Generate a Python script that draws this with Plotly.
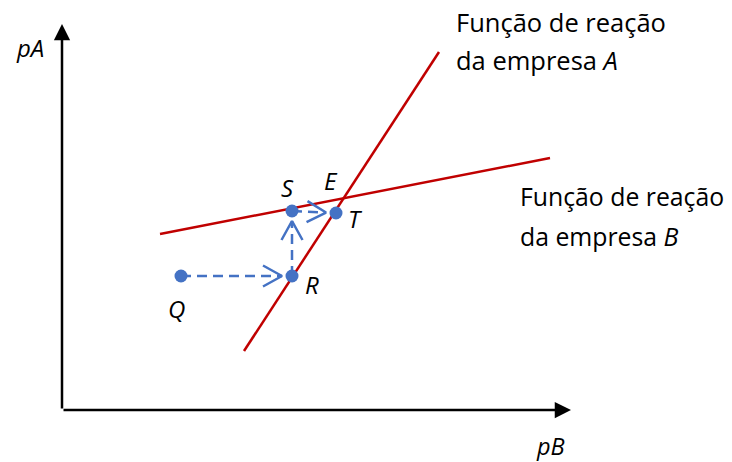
import plotly.graph_objects as go
import math

# ---- data (diagram units; origin at axes corner) ----
axis_x_end = 50.9
axis_y_end = 38.6

line_A_x = [18.2, 37.7]
line_A_y = [5.9, 35.8]
line_B_x = [9.8, 48.8]
line_B_y = [17.6, 25.2]

point_names = ["Q", "R", "S", "T"]
point_x = [11.9, 23.0, 23.0, 27.4]
point_y = [13.4, 13.4, 19.9, 19.7]

# adjustment path (from -> to, by point index)
moves = [(0, 1), (1, 2), (2, 3)]

label_A = ["Função de reação", "da empresa <i>A</i>"]
label_B = ["Função de reação", "da empresa <i>B</i>"]

# ---- layout / scale ----
W, H = 732, 462
ox, oy = 62, 410          # pixel position of origin
s = 10.0                  # pixels per unit
xr = [-ox / s, (W - ox) / s]
yr = [-(H - oy) / s, oy / s]

BLUE = "#4472C4"
RED = "#C00000"
FONT = "Open Sans"

fig = go.Figure()

# reaction functions
fig.add_trace(go.Scatter(x=line_A_x, y=line_A_y, mode="lines",
                         line=dict(color=RED, width=2.5), hoverinfo="skip"))
fig.add_trace(go.Scatter(x=line_B_x, y=line_B_y, mode="lines",
                         line=dict(color=RED, width=2.5), hoverinfo="skip"))

# dashed arrows with open chevron heads
gap_px = 10.0
head_len = 19.0
head_half = 10.5
for a, b in moves:
    x0, y0, x1, y1 = point_x[a], point_y[a], point_x[b], point_y[b]
    dx, dy = (x1 - x0) * s, (y1 - y0) * s
    L = math.hypot(dx, dy)
    ux, uy = dx / L, dy / L
    tx, ty = x1 - ux * gap_px / s, y1 - uy * gap_px / s
    fig.add_trace(go.Scatter(x=[x0, tx], y=[y0, ty], mode="lines",
                             line=dict(color=BLUE, width=2.5, dash="10px,6px"),
                             hoverinfo="skip"))
    px, py = -uy, ux
    wx1 = tx + (-ux * head_len + px * head_half) / s
    wy1 = ty + (-uy * head_len + py * head_half) / s
    wx2 = tx + (-ux * head_len - px * head_half) / s
    wy2 = ty + (-uy * head_len - py * head_half) / s
    fig.add_trace(go.Scatter(x=[wx1, tx, wx2], y=[wy1, ty, wy2], mode="lines",
                             line=dict(color=BLUE, width=2.5), hoverinfo="skip"))

# points
fig.add_trace(go.Scatter(x=point_x, y=point_y, mode="markers",
                         marker=dict(color=BLUE, size=13), hoverinfo="skip"))

# axes with arrows
for (xx, yy) in [(axis_x_end, 0), (0, axis_y_end)]:
    fig.add_annotation(x=xx, y=yy, ax=0, ay=0, xref="x", yref="y",
                       axref="x", ayref="y", showarrow=True, text="",
                       arrowhead=2, arrowsize=1.3, arrowwidth=2.5,
                       arrowcolor="black")

lab_font = dict(family=FONT, size=25.5, color="black")
labB_font = dict(family=FONT, size=24.8, color="black")
it_font = dict(family=FONT, size=24, color="black")

# point labels (offsets in pixels)
offsets = {"Q": (-5, -32), "R": (20, -8), "S": (-5, 24), "T": (19, -5)}
for n, x, y in zip(point_names, point_x, point_y):
    dxp, dyp = offsets[n]
    fig.add_annotation(x=x + dxp / s, y=y + dyp / s, text=f"<i>{n}</i>",
                       showarrow=False, font=it_font)

# equilibrium label
fig.add_annotation(x=26.9, y=23.0, text="<i>E</i>", showarrow=False, font=it_font)

# axis labels
fig.add_annotation(x=-3.2, y=36.3, text="<i>pA</i>", showarrow=False, font=it_font)
fig.add_annotation(x=48.8, y=-3.55, text="<i>pB</i>", showarrow=False,
                   borderpad=0, font=dict(family=FONT, size=23.5, color="black"))

# reaction-function labels
for i, t in enumerate(label_A):
    fig.add_annotation(x=39.2, y=38.8 - i * 3.8, text=t, showarrow=False,
                       xanchor="left", font=lab_font)
for i, t in enumerate(label_B):
    fig.add_annotation(x=45.6, y=21.4 - i * 4.0, text=t, showarrow=False,
                       xanchor="left", font=labB_font)

fig.update_layout(
    width=W, height=H, margin=dict(l=0, r=0, t=0, b=0),
    paper_bgcolor="white", plot_bgcolor="white", showlegend=False,
    xaxis=dict(range=xr, visible=False, fixedrange=True),
    yaxis=dict(range=yr, visible=False, fixedrange=True),
)
fig.write_html(
    "out.html",
    config={"displayModeBar": False, "staticPlot": True},
    post_script="document.body.style.margin='0';document.body.style.overflow='hidden';",
)
